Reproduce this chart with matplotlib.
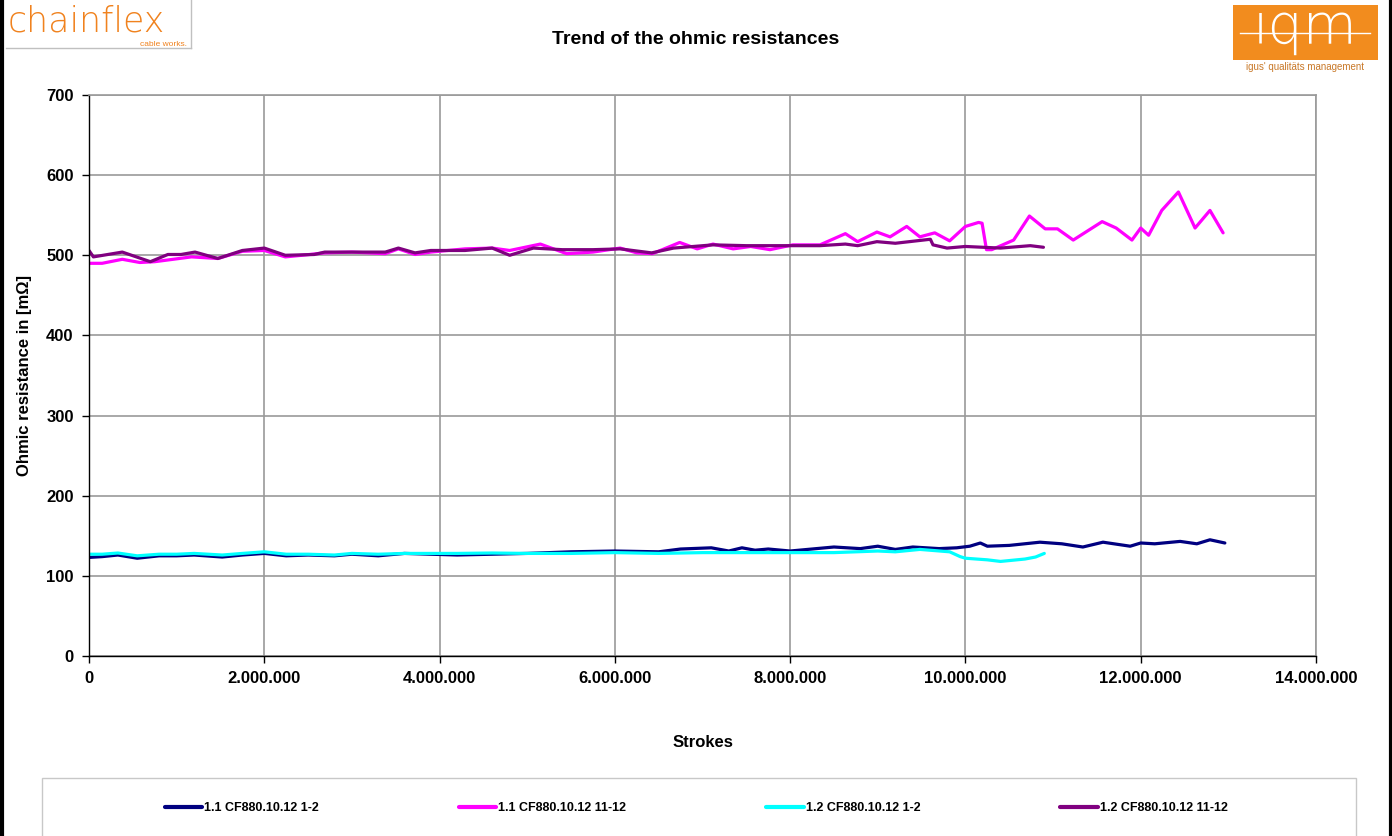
import matplotlib
matplotlib.use("Agg")
import matplotlib.pyplot as plt
import matplotlib.patches as patches
from matplotlib.ticker import FuncFormatter, MultipleLocator

plt.rcParams['font.family'] = ['Liberation Sans', 'DejaVu Sans']

# data (strokes in millions, mOhm)
x_11_12 = [0, 0.15, 0.33, 0.55, 0.8, 1.0, 1.2, 1.52, 1.75, 2.0, 2.25, 2.5, 2.8,
           3.0, 3.3, 3.6, 3.9, 4.2, 4.6, 5.0, 5.5, 6.0, 6.5, 6.75, 7.1, 7.3,
           7.45, 7.6, 7.75, 8.0, 8.2, 8.5, 8.8, 9.0, 9.2, 9.4, 9.7, 9.9, 10.05,
           10.17, 10.25, 10.5, 10.85, 11.1, 11.34, 11.57, 11.88, 12.0, 12.16,
           12.45, 12.64, 12.79, 12.96]
y_11_12 = [123, 124, 126, 122, 125, 125, 126, 123.5, 126, 128, 125, 126, 125,
           127, 125, 128, 127, 126, 127, 128, 130, 131, 130, 133.5, 135, 131,
           135, 132, 133.5, 131, 133, 136, 134, 137, 133, 136, 134, 135, 137,
           141, 137, 138, 142, 140, 136, 142, 137, 141, 140, 143, 140, 145, 141]

x_11_1112 = [0, 0.15, 0.38, 0.58, 0.75, 1.17, 1.47, 1.75, 2.0, 2.24, 2.43, 2.69,
             3.0, 3.38, 3.53, 3.72, 3.9, 4.29, 4.6, 4.8, 5.15, 5.45, 5.75, 6.06,
             6.25, 6.43, 6.74, 6.94, 7.12, 7.35, 7.55, 7.77, 8.03, 8.34, 8.63,
             8.77, 8.99, 9.14, 9.33, 9.48, 9.65, 9.82, 10.0, 10.15, 10.19, 10.24,
             10.3, 10.55, 10.73, 10.91, 11.05, 11.23, 11.56, 11.72, 11.9, 12.0,
             12.09, 12.24, 12.43, 12.62, 12.79, 12.94]
y_11_1112 = [490, 490, 495, 491, 492, 498, 496, 505, 506, 498, 500, 503,
             504, 502, 508, 501, 504, 508, 509, 506, 514, 502, 504, 509,
             503, 502, 516, 508, 514, 508, 511, 507, 513, 513, 527,
             517, 529, 523, 536, 523, 528, 518, 536, 541, 540, 507,
             507, 519, 549, 533, 533, 519, 542, 534, 519, 534,
             525, 556, 579, 534, 556, 528]

x_12_12 = [0, 0.15, 0.33, 0.55, 0.8, 1.0, 1.2, 1.52, 1.75, 2.0, 2.25, 2.5, 2.8,
           3.0, 3.3, 3.6, 3.9, 4.2, 4.6, 5.0, 5.5, 6.0, 6.5, 7.0, 7.5, 8.0, 8.5,
           9.0, 9.2, 9.48, 9.82, 9.94, 10.0, 10.25, 10.4, 10.68, 10.8, 10.9]
y_12_12 = [127, 127, 128.5, 125, 127, 127, 128, 126, 128, 130, 127, 127, 126,
           128, 127, 128, 128, 128, 128.5, 128, 128, 129, 128, 129, 129, 129, 129,
           131, 130, 133, 130, 124, 122, 120, 118, 121, 123.5, 128]

x_12_1112 = [0, 0.05, 0.38, 0.7, 0.9, 1.05, 1.21, 1.47, 1.75, 2.0, 2.24, 2.57,
             2.69, 3.0, 3.38, 3.53, 3.72, 3.9, 4.29, 4.6, 4.8, 5.07, 5.4, 5.75,
             6.06, 6.42, 6.67, 7.12, 7.5, 8.0, 8.34, 8.63, 8.77, 8.99, 9.2, 9.6,
             9.63, 9.79, 10.0, 10.4, 10.74, 10.89]
y_12_1112 = [506, 498, 504, 492, 501, 501, 504, 496, 506, 509, 500, 501,
             504, 504, 504, 509, 503, 506, 506, 509, 500, 509, 507, 507,
             508, 503, 509, 513, 512, 512, 512, 514, 512, 517, 515, 520,
             513, 509, 511, 509, 512, 510]

series = [
    ("1.1 CF880.10.12 1-2", x_11_12, y_11_12, "#000080"),
    ("1.1 CF880.10.12 11-12", x_11_1112, y_11_1112, "#FF00FF"),
    ("1.2 CF880.10.12 1-2", x_12_12, y_12_12, "#00FFFF"),
    ("1.2 CF880.10.12 11-12", x_12_1112, y_12_1112, "#800080"),
]

fig = plt.figure(figsize=(13.92, 8.36), dpi=100)
W, H = 1392, 836

def fx(px):
    return px / W

def fy(py):
    return 1 - py / H

ax = fig.add_axes([fx(89), fy(656), fx(1316) - fx(89), fy(95) - fy(656)])

lines = []
for lbl, xs, ys, col in series:
    ln, = ax.plot([v * 1e6 for v in xs], ys, color=col, linewidth=2.3,
                  solid_joinstyle="round", solid_capstyle="round", label=lbl)
    lines.append(ln)

ax.set_xlim(0, 14e6)
ax.set_ylim(0, 700)
ax.xaxis.set_major_locator(MultipleLocator(2e6))
ax.yaxis.set_major_locator(MultipleLocator(100))
ax.xaxis.set_major_formatter(FuncFormatter(lambda v, p: f"{int(v):,}".replace(",", ".")))
ax.grid(True, color="#9a9a9a", linewidth=1.2)
ax.set_axisbelow(True)
for s in ["top", "right"]:
    ax.spines[s].set_color("#9a9a9a")
    ax.spines[s].set_linewidth(1.2)
for s in ["left", "bottom"]:
    ax.spines[s].set_color("black")
    ax.spines[s].set_linewidth(1.0)
ax.tick_params(direction="out", length=5, width=1, labelsize=12, pad=6)
for t in ax.get_xticklabels() + ax.get_yticklabels():
    t.set_fontweight("bold")

ax.set_xlabel("Strokes", fontsize=12, fontweight="bold", labelpad=35)
ax.set_ylabel("Ohmic resistance in [mΩ]", fontsize=12, fontweight="bold", labelpad=10)

fig.text(0.5, fy(39), "Trend of the ohmic resistances", ha="center", va="center",
         fontsize=14, fontweight="bold")

# legend frame
fig.patches.append(patches.Rectangle((fx(42), fy(845)), fx(1356) - fx(42), fy(778) - fy(845),
                                     transform=fig.transFigure, facecolor="white",
                                     edgecolor="#c8c8c8", linewidth=1.0))
leg = fig.legend(handles=lines, loc="center", bbox_to_anchor=(fx(696), fy(808)),
                 ncol=4, frameon=False, handlelength=3.0,
                 handletextpad=0.15, columnspacing=11.2,
                 prop={"weight": "bold", "size": 9})
for ln in leg.get_lines():
    ln.set_linewidth(3)

# chainflex logo
fig.text(fx(8), fy(32), "chainflex", ha="left", va="baseline", fontsize=25,
         color="#F0821E", family="DejaVu Sans", fontweight="light")
fig.text(fx(187), fy(46.5), "cable works.", ha="right", va="baseline", fontsize=6,
         color="#F0821E")
fig.add_artist(plt.Line2D([fx(6), fx(191)], [fy(48), fy(48)], color="#c0c0c0", linewidth=1))
fig.add_artist(plt.Line2D([fx(191), fx(191)], [fy(0), fy(48)], color="#c0c0c0", linewidth=1))

# iqm logo
fig.patches.append(patches.Rectangle((fx(1233), fy(60)), fx(1378) - fx(1233), fy(5) - fy(60),
                                     transform=fig.transFigure, facecolor="#F28C1E",
                                     edgecolor="none"))
fig.text(fx(1305), fy(43), "iqm", ha="center", va="baseline", fontsize=40,
         color="white", family="DejaVu Sans", fontweight="light")
fig.add_artist(plt.Line2D([fx(1240), fx(1370)], [fy(33), fy(33)], color="white", linewidth=1))
fig.text(fx(1305), fy(67), "igus' qualitäts management", ha="center", va="center",
         fontsize=7, color="#C87828")

# black frame edges
fig.add_artist(plt.Line2D([fx(1.5), fx(1.5)], [0, 1], color="black", linewidth=3))
fig.add_artist(plt.Line2D([fx(1390.5), fx(1390.5)], [0, 1], color="black", linewidth=3))

fig.savefig("out.png", dpi=100)
